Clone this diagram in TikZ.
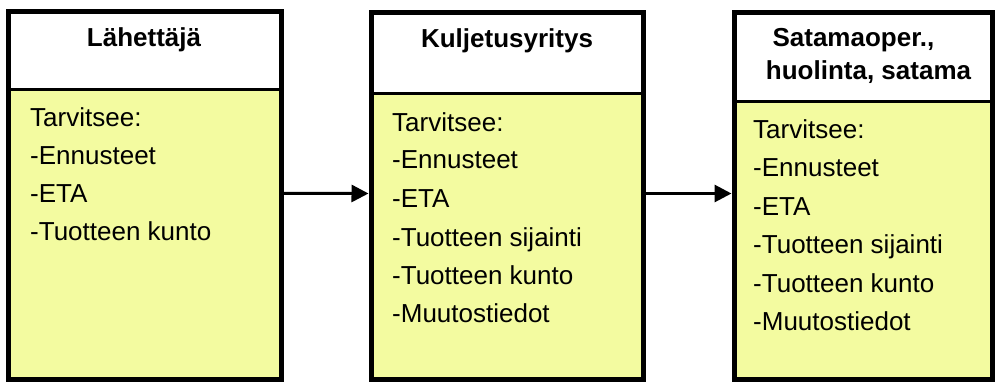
\documentclass[tikz,border=0pt]{standalone}
\usepackage{fontspec}
\setmainfont{Liberation Sans}
\usetikzlibrary{arrows.meta}
\definecolor{bodyyellow}{RGB}{243,251,160}
\tikzset{
  hdrfill/.style={fill=white, draw=none, inner sep=0pt, outer sep=0pt},
  bodyfill/.style={fill=bodyyellow, draw=none, inner sep=0pt, outer sep=0pt},
  frame/.style={draw=black, line width=5pt, fill=none, inner sep=0pt},
  divline/.style={draw=black, line width=3pt},
  hdrtext/.style={font=\fontsize{26}{30}\selectfont\bfseries, inner sep=0pt, anchor=base},
  item/.style={font=\fontsize{26}{30}\selectfont, inner sep=0pt, anchor=base west},
  arr/.style={draw=black, line width=3pt, -{Triangle[length=17pt,width=17pt]}}
}
\begin{document}
\begin{tikzpicture}[x=1pt,y=-1pt]
\useasboundingbox (0,0) rectangle (995,383);
% Box 1
\node[hdrfill, minimum width=272.5pt, minimum height=77.5pt] (h1) at (144.75,50.25) {};
\node[bodyfill, minimum width=272.5pt, minimum height=290pt] (y1) at (144.75,234) {};
\draw[divline] (h1.south west) -- (h1.south east);
\node[frame, minimum width=272.5pt, minimum height=367.5pt] (b1) at (144.75,195.25) {};
\node[hdrtext] (t1) at (144,46) {Lähettäjä};
\node[item] (l1a) at (30,126) {Tarvitsee:};
\node[item] (l1b) at (30,164) {-Ennusteet};
\node[item] (l1c) at (30,202) {-ETA};
\node[item] (l1d) at (30,240) {-Tuotteen kunto};
% Box 2
\node[hdrfill, minimum width=272pt, minimum height=81pt] (h2) at (507,52.5) {};
\node[bodyfill, minimum width=272pt, minimum height=286pt] (y2) at (507,236) {};
\draw[divline] (h2.south west) -- (h2.south east);
\node[frame, minimum width=272pt, minimum height=367pt] (b2) at (507,195.5) {};
\node[hdrtext] (t2) at (507,47) {Kuljetusyritys};
\node[item] (l2a) at (392,131) {Tarvitsee:};
\node[item] (l2b) at (392,168.5) {-Ennusteet};
\node[item] (l2c) at (392,207) {-ETA};
\node[item] (l2d) at (392,246) {-Tuotteen sijainti};
\node[item] (l2e) at (392,284.5) {-Tuotteen kunto};
\node[item] (l2f) at (392,322) {-Muutostiedot};
% Box 3
\node[hdrfill, minimum width=258pt, minimum height=89pt] (h3) at (863,56.5) {};
\node[bodyfill, minimum width=258pt, minimum height=278pt] (y3) at (863,240) {};
\draw[divline] (h3.south west) -- (h3.south east);
\node[frame, minimum width=258pt, minimum height=367pt] (b3) at (863,195.5) {};
\node[hdrtext] (t3a) at (853.5,46) {Satamaoper.,};
\node[hdrtext] (t3b) at (868.5,79) {huolinta, satama};
\node[item] (l3a) at (753,138) {Tarvitsee:};
\node[item] (l3b) at (753,176) {-Ennusteet};
\node[item] (l3c) at (753,215) {-ETA};
\node[item] (l3d) at (753,253) {-Tuotteen sijainti};
\node[item] (l3e) at (753,292) {-Tuotteen kunto};
\node[item] (l3f) at (753,330) {-Muutostiedot};
% Arrows
\draw[arr] ([yshift=2pt]b1.east) -- ([yshift=2pt]b2.west);
\draw[arr] ([yshift=2pt]b2.east) -- ([yshift=2pt]b3.west);
\end{tikzpicture}
\end{document}
